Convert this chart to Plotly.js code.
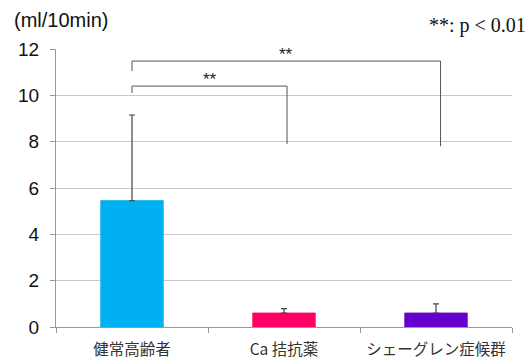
<!DOCTYPE html>
<html><head><meta charset="utf-8">
<script src="https://cdn.plot.ly/plotly-3.0.1.min.js"></script>
<style>body{margin:0;background:#fff}#c{width:528px;height:360px}</style>
</head><body><div id="c"></div>
<script>
const categories = ["健常高齢者", "Ca 拮抗薬", "シェーグレン症候群"];
const means = [5.45, 0.6, 0.6];
const errorsPlus = [3.7, 0.19, 0.4];
const barColors = ["#00B0F0", "#FF0066", "#6600CC"];
const yTicks = [0, 2, 4, 6, 8, 10, 12];
// significance brackets
const bracketFrom = [0, 0];
const bracketTo = [1.02, 2.03];
const bracketTop = [10.4, 11.48];
const bracketLeftFoot = [10.1, 11.05];
const bracketRightFoot = [7.9, 7.8];
const bracketLabel = ["**", "**"];

const shapes = [];
const annotations = [];
for (let i = 0; i < bracketFrom.length; i++) {
  const x0 = bracketFrom[i], x1 = bracketTo[i];
  shapes.push({type:"path", xref:"x", yref:"y",
    path:`M ${x0},${bracketLeftFoot[i]} L ${x0},${bracketTop[i]} L ${x1},${bracketTop[i]} L ${x1},${bracketRightFoot[i]}`,
    line:{color:"#555", width:1}});
  annotations.push({xref:"x", yref:"y", x:(x0 + x1) / 2, y:bracketTop[i], text:bracketLabel[i],
    showarrow:false, yanchor:"bottom", yshift:-5, font:{family:"Liberation Sans, Arial", size:17, color:"#222"}});
}
annotations.push({xref:"paper", yref:"paper", x:-0.0965, y:1.104, xanchor:"left", yanchor:"middle",
  text:"(ml/10min)", showarrow:false, font:{family:"Liberation Sans, Arial", size:20, color:"#111"}});
annotations.push({xref:"paper", yref:"paper", x:1.035, y:1.083, xanchor:"right", yanchor:"middle",
  text:"**: p < 0.01", showarrow:false, font:{family:"Liberation Serif, Times New Roman", size:20, color:"#111"}});

const trace = {
  type:"bar", x:categories, y:means,
  marker:{color:barColors, line:{color:barColors, width:1}},
  error_y:{type:"data", array:errorsPlus, symmetric:false, arrayminus:[0,0,0], visible:true, color:"#444", thickness:1.2, width:3},
  hoverinfo:"skip"
};

const layout = {
  width:528, height:360,
  margin:{l:56, r:16, t:49, b:33},
  paper_bgcolor:"#fff", plot_bgcolor:"#fff",
  showlegend:false, bargap:0.59,
  font:{family:"Noto Sans CJK JP, Liberation Sans", color:"#111"},
  xaxis:{type:"category", showline:true, linecolor:"#999", linewidth:1, ticks:"outside", tickson:"boundaries",
    ticklen:5, tickcolor:"#999", ticklabelstandoff:8, tickfont:{family:"Noto Sans CJK JP", size:15.5, color:"#333"}, showgrid:false, zeroline:false},
  yaxis:{range:[0,12], tickvals:yTicks, ticktext:yTicks.map(String), showline:true, linecolor:"#999", linewidth:1,
    showgrid:true, gridcolor:"#c8c8c8", gridwidth:1, zeroline:false, ticks:"outside", ticklen:5, tickcolor:"#999",
    ticklabelstandoff:7, tickfont:{family:"Liberation Sans, Arial", size:19, color:"#111"}, fixedrange:true},
  shapes:shapes, annotations:annotations
};
Plotly.newPlot("c", [trace], layout, {staticPlot:true, displayModeBar:false});
</script></body></html>
